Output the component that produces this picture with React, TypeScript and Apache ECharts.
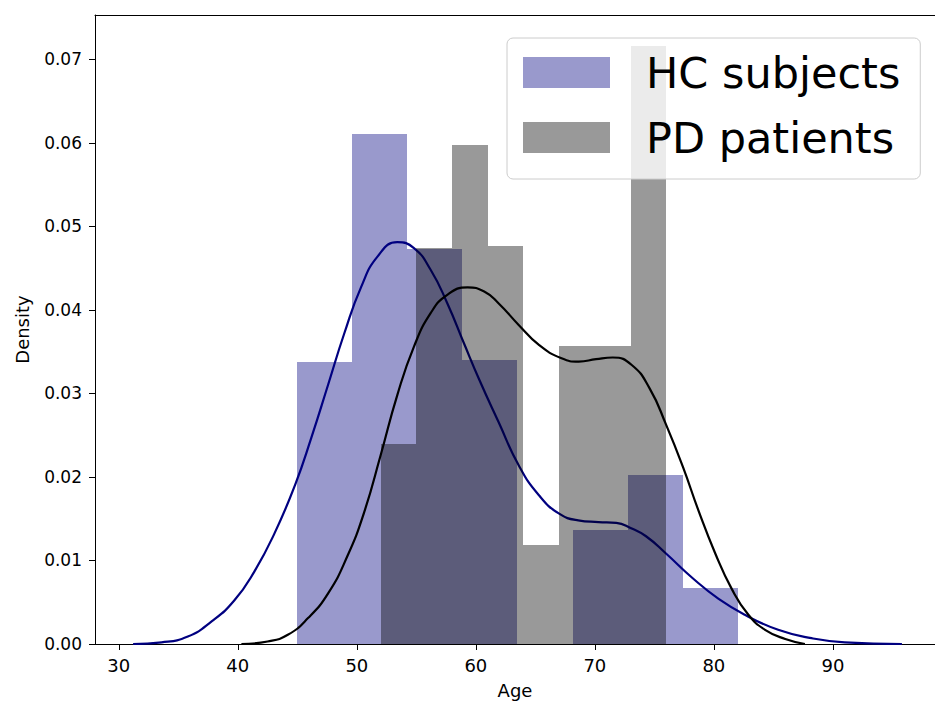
import React, { useEffect, useRef } from "react";
import * as echarts from "echarts";

// Histogram bin edges and densities
const hcBinEdges = [45, 49.625, 54.25, 58.875, 63.5, 68.125, 72.75, 77.375, 82];
const hcDensity = [0.0338, 0.061, 0.0473, 0.034, 0, 0.0137, 0.0202, 0.0067];
const pdBinEdges = [52, 55, 58, 61, 64, 67, 70, 73, 76];
const pdDensity = [0.0239, 0.0474, 0.0597, 0.0477, 0.0119, 0.0357, 0.0357, 0.0716];

// KDE curves (age, density)
const hcKdeAge = [31.2, 33.6, 35.8, 37.8, 39.7, 41.4, 43.1, 44.8, 46.2, 47.6, 48.95, 50.35, 51.75, 53.4, 54.8, 56.2, 57.6, 59.0, 60.3, 61.9, 63.6, 65.3, 67.0, 68.6, 70.3, 71.8, 73.0, 74.3, 76.0, 78.2, 80.4, 82.6, 85.4, 88.2, 91.0, 95.8];
const hcKdeDensity = [0, 0.0002, 0.0009, 0.0027, 0.0052, 0.0087, 0.0133, 0.019, 0.0248, 0.0311, 0.0372, 0.0427, 0.0464, 0.0481, 0.0474, 0.0448, 0.0408, 0.036, 0.0316, 0.0266, 0.0214, 0.0178, 0.0156, 0.0148, 0.0146, 0.0145, 0.0139, 0.0129, 0.0108, 0.0079, 0.0054, 0.0035, 0.0017, 0.0007, 0.0002, 0];
const pdKdeAge = [40.3, 42.5, 44.2, 45.9, 47.6, 49.2, 50.6, 52.0, 53.4, 54.8, 56.2, 57.6, 59.3, 60.7, 61.9, 63.6, 65.3, 67.2, 68.65, 70.1, 71.5, 73.1, 74.6, 76.0, 77.4, 78.7, 80.1, 81.5, 82.9, 84.3, 86.0, 87.65];
const pdKdeDensity = [0, 0.0003, 0.0011, 0.0031, 0.0061, 0.0105, 0.0157, 0.0226, 0.0298, 0.0356, 0.0396, 0.0418, 0.0427, 0.0422, 0.0408, 0.0382, 0.0358, 0.0342, 0.0338, 0.0341, 0.0343, 0.0334, 0.0306, 0.0262, 0.0212, 0.016, 0.0109, 0.0066, 0.0035, 0.0017, 0.0006, 0];

// Tick labels
const xTicks = [30, 40, 50, 60, 70, 80, 90];
const yTicks = [0, 0.01, 0.02, 0.03, 0.04, 0.05, 0.06, 0.07];

const FONT = "DejaVu Sans";

function binsToData(edges: number[], vals: number[]) {
  return vals.map((v, i) => [edges[i], edges[i + 1], v]);
}

function renderBar(params: any, api: any) {
  const x0 = api.value(0);
  const x1 = api.value(1);
  const h = api.value(2);
  const p0 = api.coord([x0, h]);
  const p1 = api.coord([x1, 0]);
  const left = Math.round(p0[0]);
  const right = Math.round(p1[0]);
  const top = Math.round(p0[1]);
  const bottom = Math.round(p1[1]);
  return {
    type: "rect",
    shape: { x: left, y: top, width: right - left, height: bottom - top },
    style: { fill: api.visual("color") },
  };
}

export default function App() {
  const ref = useRef<HTMLDivElement>(null);
  useEffect(() => {
    if (!ref.current) return;
    const chart = echarts.init(ref.current, null, { renderer: "svg" });
    chart.setOption({
      animation: false,
      backgroundColor: "#ffffff",
      grid: { left: 95, top: 15, right: -2, bottom: 62, containLabel: false },
      legend: {
        data: ["HC subjects", "PD patients"],
        orient: "vertical",
        left: 507,
        top: 38,
        padding: [13, 20, 20, 16],
        itemGap: 22,
        itemWidth: 87,
        itemHeight: 31,
        icon: "rect",
        backgroundColor: "rgba(255,255,255,0.8)",
        borderColor: "#cccccc",
        borderWidth: 1,
        borderRadius: 6,
        textStyle: {
          fontFamily: FONT,
          fontSize: 43,
          lineHeight: 42,
          color: "#000",
          padding: [0, 0, 0, 31],
        },
      },
      xAxis: [
        {
          type: "value",
          min: 28,
          max: 98.58,
          name: "Age",
          nameLocation: "middle",
          nameGap: 37,
          nameTextStyle: { fontFamily: FONT, fontSize: 18, color: "#000" },
          axisLine: { show: true, lineStyle: { color: "#000", width: 1 } },
          axisTick: { show: true, length: 6, lineStyle: { color: "#000" }, customValues: xTicks },
          axisLabel: {
            fontFamily: FONT,
            fontSize: 18,
            color: "#000",
            margin: 12,
            customValues: xTicks,
          },
          splitLine: { show: false },
        },
        {
          type: "value",
          position: "top",
          min: 28,
          max: 98.58,
          axisLine: { show: true, onZero: false, lineStyle: { color: "#000", width: 1 } },
          axisTick: { show: false },
          axisLabel: { show: false },
          splitLine: { show: false },
        },
      ],
      yAxis: {
        type: "value",
        min: 0,
        max: 0.0753,
        name: "Density",
        nameLocation: "middle",
        nameGap: 64,
        nameTextStyle: { fontFamily: FONT, fontSize: 18, color: "#000" },
        axisLine: { show: true, lineStyle: { color: "#000", width: 1 } },
        axisTick: { show: true, length: 6, lineStyle: { color: "#000" }, customValues: yTicks },
        axisLabel: {
          fontFamily: FONT,
          fontSize: 17,
          color: "#000",
          margin: 13,
          customValues: yTicks,
          formatter: (v: number) => v.toFixed(2),
        },
        splitLine: { show: false },
      },
      series: [
        {
          name: "HC subjects",
          type: "custom",
          renderItem: renderBar,
          itemStyle: { color: "rgba(0,0,128,0.4)" },
          encode: { x: [0, 1], y: 2 },
          data: binsToData(hcBinEdges, hcDensity),
          z: 1,
        },
        {
          name: "HC kde",
          type: "line",
          smooth: 0.5,
          showSymbol: false,
          symbol: "none",
          lineStyle: { color: "#000080", width: 2.2 },
          itemStyle: { color: "#000080" },
          data: hcKdeAge.map((a, i) => [a, hcKdeDensity[i]]),
          z: 2,
        },
        {
          name: "PD patients",
          type: "custom",
          renderItem: renderBar,
          itemStyle: { color: "rgba(0,0,0,0.4)" },
          encode: { x: [0, 1], y: 2 },
          data: binsToData(pdBinEdges, pdDensity),
          z: 3,
        },
        {
          name: "PD kde",
          type: "line",
          smooth: 0.5,
          showSymbol: false,
          symbol: "none",
          lineStyle: { color: "#000000", width: 2.2 },
          itemStyle: { color: "#000000" },
          data: pdKdeAge.map((a, i) => [a, pdKdeDensity[i]]),
          z: 4,
        },
      ],
    });
    return () => chart.dispose();
  }, []);
  return (
    <div
      ref={ref}
      style={{ position: "absolute", left: 0, top: 0, width: 935, height: 706 }}
    />
  );
}
